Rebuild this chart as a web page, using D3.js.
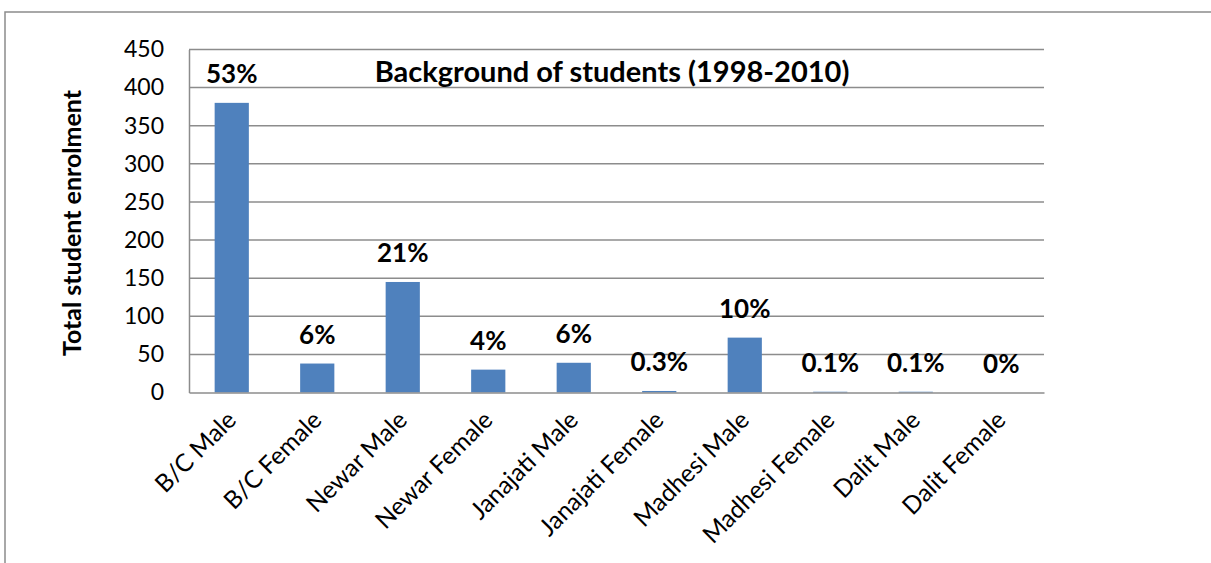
<!DOCTYPE html>
<html>
<head>
<meta charset="utf-8">
<script src="https://cdn.jsdelivr.net/npm/d3@7"></script>
<style>
  html, body { margin: 0; padding: 0; background: #fff; }
  svg { display: block; font-family: Lato, "Open Sans", sans-serif; }
</style>
</head>
<body>
<svg id="chart" width="1211" height="563"></svg>
<script>
// Student enrolment by background, 1998-2010
const categories = ["B/C Male", "B/C Female", "Newar Male", "Newar Female", "Janajati Male",
  "Janajati Female", "Madhesi Male", "Madhesi Female", "Dalit Male", "Dalit Female"];
const enrolment = [380, 38, 145, 30, 39, 2, 72, 1, 1, 0];
const shareLabels = ["53%", "6%", "21%", "4%", "6%", "0.3%", "10%", "0.1%", "0.1%", "0%"];
const yTicks = [0, 50, 100, 150, 200, 250, 300, 350, 400, 450];

const svg = d3.select("#chart");
const W = 1211, H = 563;
const plot = { left: 189, right: 1044, top: 49.5, bottom: 392.5 };

// outer chart frame (runs past the right and bottom edges)
svg.append("rect")
  .attr("x", 5).attr("y", 12)
  .attr("width", W + 20).attr("height", H + 20)
  .attr("fill", "none").attr("stroke", "#8c8c8c").attr("stroke-width", 1.5);

const x = d3.scaleBand().domain(categories).range([plot.left, plot.right]).paddingInner(0.6).paddingOuter(0.3);
const y = d3.scaleLinear().domain([0, 450]).range([plot.bottom, plot.top]);

// horizontal gridlines
svg.append("g").selectAll("line").data(yTicks.filter(d => d > 0)).join("line")
  .attr("x1", plot.left).attr("x2", plot.right)
  .attr("y1", d => y(d)).attr("y2", d => y(d))
  .attr("stroke", "#8c8c8c").attr("stroke-width", 1.5);

// y axis
const yAxis = svg.append("g")
  .attr("transform", `translate(${plot.left},0)`)
  .call(d3.axisLeft(y).tickValues(yTicks).tickSize(0).tickPadding(25));
yAxis.select(".domain").attr("stroke", "#8c8c8c").attr("stroke-width", 1.5);
yAxis.selectAll("text").attr("font-size", 23).attr("fill", "#000")
  .attr("font-family", "Lato, sans-serif");

// bars
svg.append("g").selectAll("rect").data(enrolment).join("rect")
  .attr("x", (d, i) => x(categories[i]))
  .attr("y", d => y(d))
  .attr("width", x.bandwidth())
  .attr("height", d => y(0) - y(d))
  .attr("fill", "#4f81bd");

// x axis with slanted category names
const xAxis = svg.append("g")
  .attr("transform", `translate(0,${plot.bottom})`)
  .call(d3.axisBottom(x).tickSize(0).tickPadding(0));
xAxis.select(".domain").attr("stroke", "#8c8c8c").attr("stroke-width", 1.5);
xAxis.selectAll("text")
  .attr("font-size", 24.5).attr("fill", "#000").attr("font-family", "Lato, sans-serif")
  .attr("text-anchor", "end")
  .attr("dy", null).attr("y", 0)
  .attr("transform", "translate(6,29) rotate(-45)");

// share labels above bars
svg.append("g").selectAll("text").data(shareLabels).join("text")
  .attr("x", (d, i) => x(categories[i]) + x.bandwidth() / 2)
  .attr("y", (d, i) => y(enrolment[i]) - 20)
  .attr("text-anchor", "middle")
  .attr("font-size", 26).attr("font-weight", "bold")
  .text(d => d);

// title
svg.append("text")
  .attr("x", 612).attr("y", 82)
  .attr("text-anchor", "middle")
  .attr("font-size", 29).attr("font-weight", "bold")
  .text("Background of students (1998-2010)");

// y axis title
svg.append("text")
  .attr("transform", `translate(81,${(plot.top + plot.bottom) / 2 + 2}) rotate(-90)`)
  .attr("text-anchor", "middle")
  .attr("font-size", 25).attr("font-weight", "bold")
  .text("Total student enrolment");
</script>
</body>
</html>
